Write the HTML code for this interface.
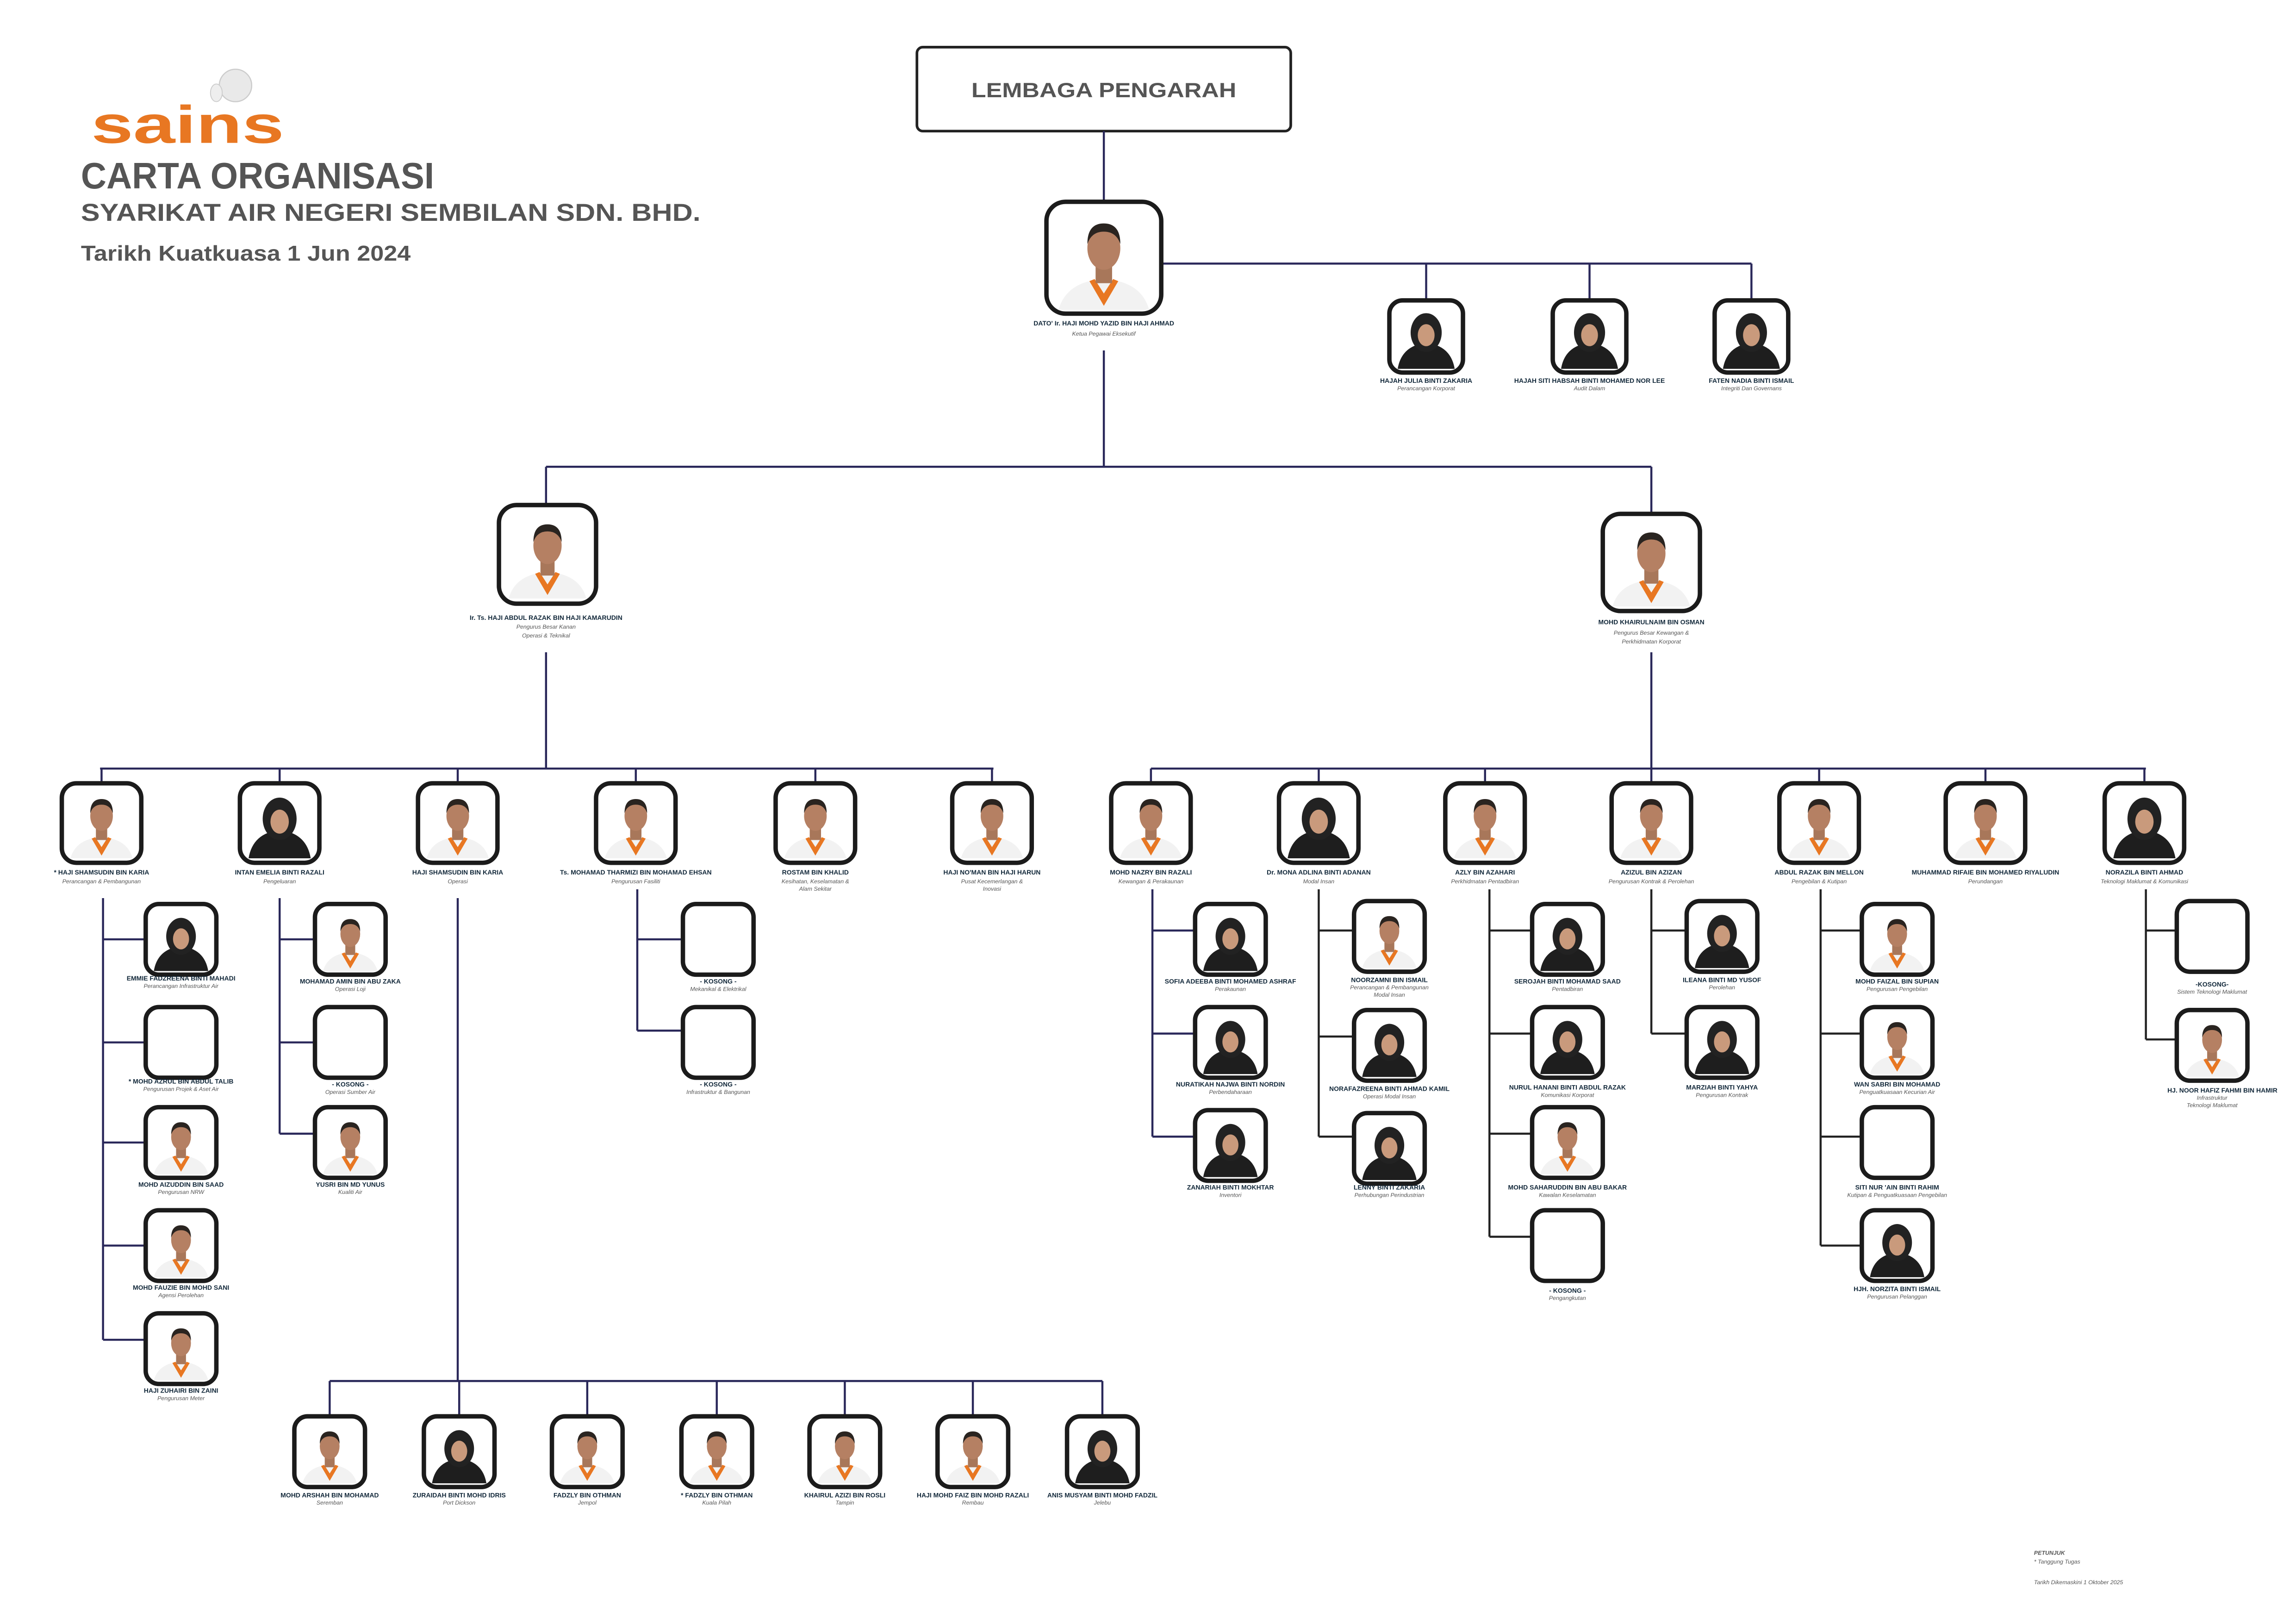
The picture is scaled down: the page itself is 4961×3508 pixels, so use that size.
<!DOCTYPE html>
<html><head><meta charset="utf-8"><style>
html,body{margin:0;padding:0;background:#fff}
svg{display:block}
.b{fill:#fff;stroke:#1b1b1b;stroke-width:3}
.n{font-family:"Liberation Sans",sans-serif;font-weight:bold;fill:#12283a;text-anchor:middle;font-size:4.4px}
.t{font-family:"Liberation Sans",sans-serif;font-style:italic;fill:#555;text-anchor:middle;font-size:3.9px}
.L{stroke:#2a285a;stroke-width:1.4;fill:none}
.K{stroke:#222;stroke-width:1.4;fill:none}
.h{font-family:"Liberation Sans",sans-serif;font-weight:bold;fill:#555}
</style></head><body>
<svg width="4961" height="3508" viewBox="0 0 1560 1103" xmlns="http://www.w3.org/2000/svg">
<defs>
<symbol id="m" viewBox="0 0 50 50"><path d="M3 50 Q6 39 18 36 L32 36 Q44 39 47 50Z" fill="#f2f2f2"/><path d="M18 36 L25 48 L32 36 L29.5 35 L25 42 L20.5 35Z" fill="#e87722"/><rect x="21" y="28" width="8" height="9" fill="#a8775a"/><ellipse cx="25" cy="20" rx="8" ry="10.5" fill="#b58063"/><path d="M17 18 Q17 8 25 8 Q33 8 33 18 Q31 12 25 12 Q19 12 17 18Z" fill="#2a2420"/></symbol>
<symbol id="f" viewBox="0 0 50 50"><path d="M3 50 Q6 32 25 30 Q44 32 47 50Z" fill="#1e1e1e"/><ellipse cx="25" cy="22" rx="12" ry="15" fill="#222"/><ellipse cx="25" cy="24" rx="6.5" ry="8.5" fill="#c99a7c"/></symbol>
</defs>

<!-- header -->
<text x="62" y="97" font-family="Liberation Sans,sans-serif" font-weight="bold" font-size="36" fill="#e87722" textLength="131" lengthAdjust="spacingAndGlyphs">sains</text>
<ellipse cx="160" cy="58" rx="11" ry="11" fill="#e9e9e9" stroke="#ccc" stroke-width="0.8"/>
<ellipse cx="147" cy="63" rx="4" ry="6" fill="#eee" stroke="#ccc" stroke-width="0.6"/>
<text x="55" y="128" class="h" font-size="25" textLength="240" lengthAdjust="spacingAndGlyphs">CARTA ORGANISASI</text>
<text x="55" y="150" class="h" font-size="16.5" textLength="421" lengthAdjust="spacingAndGlyphs">SYARIKAT AIR NEGERI SEMBILAN SDN. BHD.</text>
<text x="55" y="177" class="h" font-size="14.5" textLength="224" lengthAdjust="spacingAndGlyphs">Tarikh Kuatkuasa 1 Jun 2024</text>

<!-- board -->
<rect x="623" y="32" width="254" height="57" rx="4" fill="#fff" stroke="#222" stroke-width="1.8"/>
<text x="750" y="66" class="h" font-size="14" text-anchor="middle" textLength="180" lengthAdjust="spacingAndGlyphs">LEMBAGA PENGARAH</text>

<!-- connectors -->
<path class="L" d="M750 89V137 M789 179H1190 M969 179V204 M1080 179V204 M1190 179V204 M750 238V317 M371 317H1122 M371 317V343 M1122 317V350 M371 443V522 M1122 443V522 M68 522H675 M782 522H1458
M69 522V532 M190 522V532 M311 522V532 M432 522V532 M554 522V532 M674 522V532 M782 522V532 M896 522V532 M1009 522V532 M1122 522V532 M1236 522V532 M1349 522V532 M1457 522V532"/>
<path class="L" d="M70 610V910 M70 638H99 M70 708H99 M70 776H99 M70 846H99 M70 910H99
M190 610V770 M190 638H214 M190 708H214 M190 770H214
M311 610V938 M224 938H749 M224 938V962 M312 938V962 M399 938V962 M487 938V962 M574 938V962 M661 938V962 M749 938V962
M433 604V700 M433 638H464 M433 700H464
M783 604V772 M783 632H812 M783 702H812 M783 772H812"/>
<path class="K" d="M896 604V772 M896 632H920 M896 704H920 M896 772H920
M1012 604V840 M1012 632H1041 M1012 702H1041 M1012 770H1041 M1012 840H1041
M1122 604V702 M1122 632H1146 M1122 702H1146
M1237 604V846 M1237 632H1265 M1237 702H1265 M1237 772H1265 M1237 846H1265
M1458 604V706 M1458 632H1479 M1458 706H1479"/>

<!-- CEO -->
<rect x="711" y="137" width="78" height="76" rx="13" class="b"/><use href="#m" x="715" y="140" width="70" height="71"/>
<text x="750" y="221" class="n" font-size="6.2">DATO' Ir. HAJI MOHD YAZID BIN HAJI AHMAD</text>
<text x="750" y="228" class="t" font-size="5.5">Ketua Pegawai Eksekutif</text>

<!-- top three -->
<rect x="944" y="204" width="50" height="49" rx="9" class="b"/><use href="#f" x="947" y="206" width="44" height="45"/>
<text x="969" y="260" class="n">HAJAH JULIA BINTI ZAKARIA</text><text x="969" y="265" class="t">Perancangan Korporat</text>
<rect x="1055" y="204" width="50" height="49" rx="9" class="b"/><use href="#f" x="1058" y="206" width="44" height="45"/>
<text x="1080" y="260" class="n">HAJAH SITI HABSAH BINTI MOHAMED NOR LEE</text><text x="1080" y="265" class="t">Audit Dalam</text>
<rect x="1165" y="204" width="50" height="49" rx="9" class="b"/><use href="#f" x="1168" y="206" width="44" height="45"/>
<text x="1190" y="260" class="n">FATEN NADIA BINTI ISMAIL</text><text x="1190" y="265" class="t">Integriti Dan Governans</text>

<!-- GMs -->
<rect x="339" y="343" width="66" height="67" rx="12" class="b"/><use href="#m" x="342" y="346" width="60" height="61"/>
<text x="371" y="421" class="n" font-size="5.5">Ir. Ts. HAJI ABDUL RAZAK BIN HAJI KAMARUDIN</text>
<text x="371" y="427" class="t" font-size="4.8">Pengurus Besar Kanan</text><text x="371" y="433" class="t" font-size="4.8">Operasi &amp; Teknikal</text>
<rect x="1089" y="349" width="66" height="66" rx="12" class="b"/><use href="#m" x="1092" y="352" width="60" height="60"/>
<text x="1122" y="424" class="n" font-size="5.5">MOHD KHAIRULNAIM BIN OSMAN</text>
<text x="1122" y="431" class="t" font-size="4.8">Pengurus Besar Kewangan &amp;</text><text x="1122" y="437" class="t" font-size="4.8">Perkhidmatan Korporat</text>

<!-- level 3 -->
<g>
<rect x="42" y="532" width="54" height="54" rx="10" class="b"/><use href="#m" x="45" y="535" width="48" height="48"/>
<text x="69" y="594" class="n">* HAJI SHAMSUDIN BIN KARIA</text><text x="69" y="600" class="t">Perancangan &amp; Pembangunan</text>
<rect x="163" y="532" width="54" height="54" rx="10" class="b"/><use href="#f" x="166" y="535" width="48" height="48"/>
<text x="190" y="594" class="n">INTAN EMELIA BINTI RAZALI</text><text x="190" y="600" class="t">Pengeluaran</text>
<rect x="284" y="532" width="54" height="54" rx="10" class="b"/><use href="#m" x="287" y="535" width="48" height="48"/>
<text x="311" y="594" class="n">HAJI SHAMSUDIN BIN KARIA</text><text x="311" y="600" class="t">Operasi</text>
<rect x="405" y="532" width="54" height="54" rx="10" class="b"/><use href="#m" x="408" y="535" width="48" height="48"/>
<text x="432" y="594" class="n">Ts. MOHAMAD THARMIZI BIN MOHAMAD EHSAN</text><text x="432" y="600" class="t">Pengurusan Fasiliti</text>
<rect x="527" y="532" width="54" height="54" rx="10" class="b"/><use href="#m" x="530" y="535" width="48" height="48"/>
<text x="554" y="594" class="n">ROSTAM BIN KHALID</text><text x="554" y="600" class="t">Kesihatan, Keselamatan &amp;</text><text x="554" y="605" class="t">Alam Sekitar</text>
<rect x="647" y="532" width="54" height="54" rx="10" class="b"/><use href="#m" x="650" y="535" width="48" height="48"/>
<text x="674" y="594" class="n">HAJI NO'MAN BIN HAJI HARUN</text><text x="674" y="600" class="t">Pusat Kecemerlangan &amp;</text><text x="674" y="605" class="t">Inovasi</text>

<rect x="755" y="532" width="54" height="54" rx="10" class="b"/><use href="#m" x="758" y="535" width="48" height="48"/>
<text x="782" y="594" class="n">MOHD NAZRY BIN RAZALI</text><text x="782" y="600" class="t">Kewangan &amp; Perakaunan</text>
<rect x="869" y="532" width="54" height="54" rx="10" class="b"/><use href="#f" x="872" y="535" width="48" height="48"/>
<text x="896" y="594" class="n">Dr. MONA ADLINA BINTI ADANAN</text><text x="896" y="600" class="t">Modal Insan</text>
<rect x="982" y="532" width="54" height="54" rx="10" class="b"/><use href="#m" x="985" y="535" width="48" height="48"/>
<text x="1009" y="594" class="n">AZLY BIN AZAHARI</text><text x="1009" y="600" class="t">Perkhidmatan Pentadbiran</text>
<rect x="1095" y="532" width="54" height="54" rx="10" class="b"/><use href="#m" x="1098" y="535" width="48" height="48"/>
<text x="1122" y="594" class="n">AZIZUL BIN AZIZAN</text><text x="1122" y="600" class="t">Pengurusan Kontrak &amp; Perolehan</text>
<rect x="1209" y="532" width="54" height="54" rx="10" class="b"/><use href="#m" x="1212" y="535" width="48" height="48"/>
<text x="1236" y="594" class="n">ABDUL RAZAK BIN MELLON</text><text x="1236" y="600" class="t">Pengebilan &amp; Kutipan</text>
<rect x="1322" y="532" width="54" height="54" rx="10" class="b"/><use href="#m" x="1325" y="535" width="48" height="48"/>
<text x="1349" y="594" class="n">MUHAMMAD RIFAIE BIN MOHAMED RIYALUDIN</text><text x="1349" y="600" class="t">Perundangan</text>
<rect x="1430" y="532" width="54" height="54" rx="10" class="b"/><use href="#f" x="1433" y="535" width="48" height="48"/>
<text x="1457" y="594" class="n">NORAZILA BINTI AHMAD</text><text x="1457" y="600" class="t">Teknologi Maklumat &amp; Komunikasi</text>
</g>

<!-- subs col 123 -->
<rect x="99" y="614" width="48" height="48" rx="9" class="b"/><use href="#f" x="102" y="617" width="42" height="43"/>
<text x="123" y="666" class="n">EMMIE FADZREENA BINTI MAHADI</text><text x="123" y="671" class="t">Perancangan Infrastruktur Air</text>
<rect x="99" y="684" width="48" height="48" rx="9" class="b"/>
<text x="123" y="736" class="n">* MOHD AZRUL BIN ABDUL TALIB</text><text x="123" y="741" class="t">Pengurusan Projek &amp; Aset Air</text>
<rect x="99" y="752" width="48" height="48" rx="9" class="b"/><use href="#m" x="102" y="755" width="42" height="43"/>
<text x="123" y="806" class="n">MOHD AIZUDDIN BIN SAAD</text><text x="123" y="811" class="t">Pengurusan NRW</text>
<rect x="99" y="822" width="48" height="48" rx="9" class="b"/><use href="#m" x="102" y="825" width="42" height="43"/>
<text x="123" y="876" class="n">MOHD FAUZIE BIN MOHD SANI</text><text x="123" y="881" class="t">Agensi Perolehan</text>
<rect x="99" y="892" width="48" height="48" rx="9" class="b"/><use href="#m" x="102" y="895" width="42" height="43"/>
<text x="123" y="946" class="n">HAJI ZUHAIRI BIN ZAINI</text><text x="123" y="951" class="t">Pengurusan Meter</text>

<!-- col 238 -->
<rect x="214" y="614" width="48" height="48" rx="9" class="b"/><use href="#m" x="217" y="617" width="42" height="43"/>
<text x="238" y="668" class="n">MOHAMAD AMIN BIN ABU ZAKA</text><text x="238" y="673" class="t">Operasi Loji</text>
<rect x="214" y="684" width="48" height="48" rx="9" class="b"/>
<text x="238" y="738" class="n">- KOSONG -</text><text x="238" y="743" class="t">Operasi Sumber Air</text>
<rect x="214" y="752" width="48" height="48" rx="9" class="b"/><use href="#m" x="217" y="755" width="42" height="43"/>
<text x="238" y="806" class="n">YUSRI BIN MD YUNUS</text><text x="238" y="811" class="t">Kualiti Air</text>

<!-- col 488 -->
<rect x="464" y="614" width="48" height="48" rx="9" class="b"/>
<text x="488" y="668" class="n">- KOSONG -</text><text x="488" y="673" class="t">Mekanikal &amp; Elektrikal</text>
<rect x="464" y="684" width="48" height="48" rx="9" class="b"/>
<text x="488" y="738" class="n">- KOSONG -</text><text x="488" y="743" class="t">Infrastruktur &amp; Bangunan</text>

<!-- bottom row -->
<rect x="200" y="962" width="48" height="48" rx="9" class="b"/><use href="#m" x="203" y="965" width="42" height="43"/>
<text x="224" y="1017" class="n">MOHD ARSHAH BIN MOHAMAD</text><text x="224" y="1022" class="t">Seremban</text>
<rect x="288" y="962" width="48" height="48" rx="9" class="b"/><use href="#f" x="291" y="965" width="42" height="43"/>
<text x="312" y="1017" class="n">ZURAIDAH BINTI MOHD IDRIS</text><text x="312" y="1022" class="t">Port Dickson</text>
<rect x="375" y="962" width="48" height="48" rx="9" class="b"/><use href="#m" x="378" y="965" width="42" height="43"/>
<text x="399" y="1017" class="n">FADZLY BIN OTHMAN</text><text x="399" y="1022" class="t">Jempol</text>
<rect x="463" y="962" width="48" height="48" rx="9" class="b"/><use href="#m" x="466" y="965" width="42" height="43"/>
<text x="487" y="1017" class="n">* FADZLY BIN OTHMAN</text><text x="487" y="1022" class="t">Kuala Pilah</text>
<rect x="550" y="962" width="48" height="48" rx="9" class="b"/><use href="#m" x="553" y="965" width="42" height="43"/>
<text x="574" y="1017" class="n">KHAIRUL AZIZI BIN ROSLI</text><text x="574" y="1022" class="t">Tampin</text>
<rect x="637" y="962" width="48" height="48" rx="9" class="b"/><use href="#m" x="640" y="965" width="42" height="43"/>
<text x="661" y="1017" class="n">HAJI MOHD FAIZ BIN MOHD RAZALI</text><text x="661" y="1022" class="t">Rembau</text>
<rect x="725" y="962" width="48" height="48" rx="9" class="b"/><use href="#f" x="728" y="965" width="42" height="43"/>
<text x="749" y="1017" class="n">ANIS MUSYAM BINTI MOHD FADZIL</text><text x="749" y="1022" class="t">Jelebu</text>

<!-- col 836 -->
<rect x="812" y="614" width="48" height="48" rx="9" class="b"/><use href="#f" x="815" y="617" width="42" height="43"/>
<text x="836" y="668" class="n">SOFIA ADEEBA BINTI MOHAMED ASHRAF</text><text x="836" y="673" class="t">Perakaunan</text>
<rect x="812" y="684" width="48" height="48" rx="9" class="b"/><use href="#f" x="815" y="687" width="42" height="43"/>
<text x="836" y="738" class="n">NURATIKAH NAJWA BINTI NORDIN</text><text x="836" y="743" class="t">Perbendaharaan</text>
<rect x="812" y="754" width="48" height="48" rx="9" class="b"/><use href="#f" x="815" y="757" width="42" height="43"/>
<text x="836" y="808" class="n">ZANARIAH BINTI MOKHTAR</text><text x="836" y="813" class="t">Inventori</text>

<!-- col 944 -->
<rect x="920" y="612" width="48" height="48" rx="9" class="b"/><use href="#m" x="923" y="615" width="42" height="43"/>
<text x="944" y="667" class="n">NOORZAMNI BIN ISMAIL</text><text x="944" y="672" class="t">Perancangan &amp; Pembangunan</text><text x="944" y="677" class="t">Modal Insan</text>
<rect x="920" y="686" width="48" height="48" rx="9" class="b"/><use href="#f" x="923" y="689" width="42" height="43"/>
<text x="944" y="741" class="n">NORAFAZREENA BINTI AHMAD KAMIL</text><text x="944" y="746" class="t">Operasi Modal Insan</text>
<rect x="920" y="756" width="48" height="48" rx="9" class="b"/><use href="#f" x="923" y="759" width="42" height="43"/>
<text x="944" y="808" class="n">LENNY BINTI ZAKARIA</text><text x="944" y="813" class="t">Perhubungan Perindustrian</text>

<!-- col 1065 -->
<rect x="1041" y="614" width="48" height="48" rx="9" class="b"/><use href="#f" x="1044" y="617" width="42" height="43"/>
<text x="1065" y="668" class="n">SEROJAH BINTI MOHAMAD SAAD</text><text x="1065" y="673" class="t">Pentadbiran</text>
<rect x="1041" y="684" width="48" height="48" rx="9" class="b"/><use href="#f" x="1044" y="687" width="42" height="43"/>
<text x="1065" y="740" class="n">NURUL HANANI BINTI ABDUL RAZAK</text><text x="1065" y="745" class="t">Komunikasi Korporat</text>
<rect x="1041" y="752" width="48" height="48" rx="9" class="b"/><use href="#m" x="1044" y="755" width="42" height="43"/>
<text x="1065" y="808" class="n">MOHD SAHARUDDIN BIN ABU BAKAR</text><text x="1065" y="813" class="t">Kawalan Keselamatan</text>
<rect x="1041" y="822" width="48" height="48" rx="9" class="b"/>
<text x="1065" y="878" class="n">- KOSONG -</text><text x="1065" y="883" class="t">Pengangkutan</text>

<!-- col 1170 -->
<rect x="1146" y="612" width="48" height="48" rx="9" class="b"/><use href="#f" x="1149" y="615" width="42" height="43"/>
<text x="1170" y="667" class="n">ILEANA BINTI MD YUSOF</text><text x="1170" y="672" class="t">Perolehan</text>
<rect x="1146" y="684" width="48" height="48" rx="9" class="b"/><use href="#f" x="1149" y="687" width="42" height="43"/>
<text x="1170" y="740" class="n">MARZIAH BINTI YAHYA</text><text x="1170" y="745" class="t">Pengurusan Kontrak</text>

<!-- col 1289 -->
<rect x="1265" y="614" width="48" height="48" rx="9" class="b"/><use href="#m" x="1268" y="617" width="42" height="43"/>
<text x="1289" y="668" class="n">MOHD FAIZAL BIN SUPIAN</text><text x="1289" y="673" class="t">Pengurusan Pengebilan</text>
<rect x="1265" y="684" width="48" height="48" rx="9" class="b"/><use href="#m" x="1268" y="687" width="42" height="43"/>
<text x="1289" y="738" class="n">WAN SABRI BIN MOHAMAD</text><text x="1289" y="743" class="t">Penguatkuasaan Kecurian Air</text>
<rect x="1265" y="752" width="48" height="48" rx="9" class="b"/>
<text x="1289" y="808" class="n">SITI NUR 'AIN BINTI RAHIM</text><text x="1289" y="813" class="t">Kutipan &amp; Penguatkuasaan Pengebilan</text>
<rect x="1265" y="822" width="48" height="48" rx="9" class="b"/><use href="#f" x="1268" y="825" width="42" height="43"/>
<text x="1289" y="877" class="n">HJH. NORZITA BINTI ISMAIL</text><text x="1289" y="882" class="t">Pengurusan Pelanggan</text>

<!-- col 1503 -->
<rect x="1479" y="612" width="48" height="48" rx="9" class="b"/>
<text x="1503" y="670" class="n">-KOSONG-</text><text x="1503" y="675" class="t">Sistem Teknologi Maklumat</text>
<rect x="1479" y="686" width="48" height="48" rx="9" class="b"/><use href="#m" x="1482" y="689" width="42" height="43"/>
<text x="1510" y="742" class="n">HJ. NOOR HAFIZ FAHMI BIN HAMIR</text><text x="1503" y="747" class="t">Infrastruktur</text><text x="1503" y="752" class="t">Teknologi Maklumat</text>

<!-- footer -->
<text x="1382" y="1056" class="t" style="text-anchor:start;font-weight:bold" font-size="5">PETUNJUK</text>
<text x="1382" y="1062" class="t" style="text-anchor:start" font-size="5">* Tanggung Tugas</text>
<text x="1382" y="1076" class="t" style="text-anchor:start" font-size="5">Tarikh Dikemaskini 1 Oktober 2025</text>
</svg>
</body></html>
